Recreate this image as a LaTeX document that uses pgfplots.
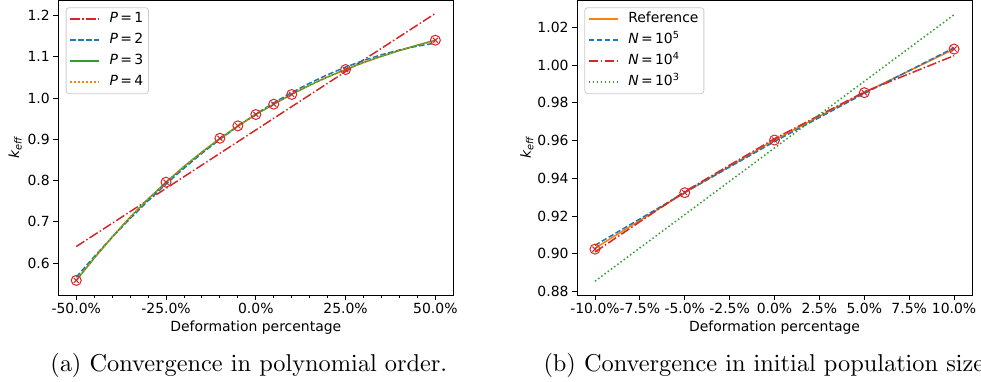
\documentclass[border=0pt]{standalone}
\usepackage{fontspec}
\usepackage{pgfplots}
\pgfplotsset{compat=1.18}
\newfontfamily\dejavu{DejaVu Sans}
\definecolor{tred}{HTML}{D62728}
\definecolor{tblue}{HTML}{1F77B4}
\definecolor{tgreen}{HTML}{2CA02C}
\definecolor{torange}{HTML}{FF7F0E}
\newcommand{\tf}{\dejavu\fontsize{14}{16.8}\selectfont}
\font\capfont=cmr10 at 24.35bp
\pgfplotsset{
  base/.style={
    scale only axis, width=395bp, height=295bp, anchor=south west,
    axis line style={line width=0.9bp, black},
    tick align=outside, major tick length=5bp, minor tick length=3bp,
    every tick/.style={line width=0.9bp, black},
    xtick pos=lower, ytick pos=left,
    tick label style={font=\tf},
    xticklabel style={inner sep=3.3bp},
    yticklabel style={inner sep=3.3bp},
    label style={font=\tf},
    xlabel={Deformation percentage},
    xlabel style={at={(axis description cs:0.5,0)}, anchor=base, yshift=-36.7bp},
    ylabel={{\itshape k}\textsubscript{\itshape eff}},
    legend cell align=left,
    legend style={at={(0,1)}, anchor=north west, xshift=7.4bp, yshift=-7.3bp,
      draw=black!20, rounded corners=3bp, line width=0.8bp, fill=white,
      fill opacity=0.8, text opacity=1, font=\tf,
      inner xsep=3.3bp, inner ysep=3bp, row sep=4bp, column sep=7.7bp,
      nodes={inner sep=2bp, text height=10bp, text depth=3bp}},
    legend image code/.code={\draw[##1] (0bp,0bp) -- (29bp,0bp);},
  },
  dd/.style={line width=1.5bp, dash pattern=on 9.6bp off 2.4bp on 1.5bp off 2.4bp},
  ds/.style={line width=1.5bp, dash pattern=on 5.55bp off 2.4bp},
  dt/.style={line width=1.5bp, dash pattern=on 1.5bp off 2.475bp},
  so/.style={line width=1.5bp},
  mk/.style={only marks, forget plot, mark=o, mark size=5bp, tred, mark options={line width=1bp, tred}},
  mx/.style={only marks, forget plot, mark=x, mark size=3.6bp, tred, mark options={line width=1bp, tred}},
}
\begin{document}
\begin{tikzpicture}[x=1bp,y=1bp]
\useasboundingbox (0,0) rectangle (981,381);
\clip (0,0) rectangle (981,381);
\begin{axis}[base, at={(58.3bp,86bp)},
  xmin=-55, xmax=55, ymin=0.5226, ymax=1.2375,
  xtick={-50,-25,0,25,50},
  xticklabels={-50.0\%,-25.0\%,0.0\%,25.0\%,50.0\%},
  minor x tick num=4,
  ytick={0.6,0.7,0.8,0.9,1.0,1.1,1.2},
  yticklabels={0.6,0.7,0.8,0.9,1.0,1.1,1.2},
  ylabel style={at={(axis description cs:-0.0835,0.5)}, rotate=0, anchor=south},
]
\addplot[tred, dd] coordinates {(-50,0.640) (-25,0.781) (0,0.9225) (25,1.064) (50,1.205)};
\addlegendentry{{\itshape P}\,=\,1}
\addplot[tblue, ds] coordinates {(-50,0.566) (-45,0.6155) (-40,0.6628) (-35,0.7079) (-30,0.7508) (-25,0.7914) (-20,0.8298) (-15,0.8659) (-10,0.8998) (-5,0.9315) (0,0.961) (5,0.9882) (10,1.0132) (15,1.0360) (20,1.0566) (25,1.0749) (30,1.0910) (35,1.1048) (40,1.1164) (45,1.1258) (50,1.1330)};
\addlegendentry{{\itshape P}\,=\,2}
\addplot[tgreen, so] coordinates {(-50,0.558) (-45,0.612) (-40,0.663) (-35,0.711) (-30,0.755) (-25,0.796) (-20,0.834) (-15,0.869) (-10,0.902) (-5,0.932) (0,0.960) (5,0.985) (10,1.009) (15,1.031) (20,1.051) (25,1.069) (30,1.086) (35,1.101) (40,1.115) (45,1.128) (50,1.140)};
\addlegendentry{{\itshape P}\,=\,3}
\addplot[torange, dt] coordinates {(-50,0.558) (-45,0.6125) (-40,0.6635) (-35,0.7112) (-30,0.7552) (-25,0.7962) (-20,0.8342) (-15,0.8692) (-10,0.9022) (-5,0.9322) (0,0.9602) (5,0.9852) (10,1.0092) (15,1.0312) (20,1.0512) (25,1.0692) (30,1.0862) (35,1.1012) (40,1.1152) (45,1.1282) (50,1.1400)};
\addlegendentry{{\itshape P}\,=\,4}
\addplot[mk] coordinates {(-50,0.558) (-25,0.796) (-10,0.9025) (-5,0.9325) (0,0.960) (5,0.985) (10,1.0085) (25,1.069) (50,1.140)};
\addplot[mx] coordinates {(-50,0.558) (-25,0.796) (-10,0.9025) (-5,0.9325) (0,0.960) (5,0.985) (10,1.0085) (25,1.069) (50,1.140)};
\end{axis}
\begin{axis}[base, at={(577bp,86bp)},
  xmin=-11, xmax=11, ymin=0.8782, ymax=1.0345,
  xtick={-10,-7.5,-5,-2.5,0,2.5,5,7.5,10},
  xticklabels={-10.0\%,-7.5\%,-5.0\%,-2.5\%,0.0\%,2.5\%,5.0\%,7.5\%,10.0\%},
  ytick={0.88,0.90,0.92,0.94,0.96,0.98,1.00,1.02},
  yticklabels={0.88,0.90,0.92,0.94,0.96,0.98,1.00,1.02},
  ylabel style={at={(axis description cs:-0.101,0.5)}, rotate=0, anchor=south},
]
\addplot[torange, so] coordinates {(-10,0.903) (-5,0.9324) (0,0.9603) (5,0.9854) (10,1.0085)};
\addlegendentry{Reference}
\addplot[tblue, ds] coordinates {(-10,0.9045) (-5,0.9325) (0,0.9595) (5,0.985) (10,1.0092)};
\addlegendentry{{\itshape N}\,=\,10\textsuperscript{5}}
\addplot[tred, dd] coordinates {(-10,0.901) (-5,0.933) (0,0.9610) (5,0.9858) (10,1.005)};
\addlegendentry{{\itshape N}\,=\,10\textsuperscript{4}}
\addplot[tgreen, dt] coordinates {(-10,0.8855) (0,0.9561) (10,1.0267)};
\addlegendentry{{\itshape N}\,=\,10\textsuperscript{3}}
\addplot[mk] coordinates {(-10,0.9025) (-5,0.9324) (0,0.9603) (5,0.9854) (10,1.0085)};
\addplot[mx] coordinates {(-10,0.9025) (-5,0.9324) (0,0.9603) (5,0.9854) (10,1.0085)};
\end{axis}
\node[anchor=base, font=\capfont] at (249,9.3) {(a) Convergence in polynomial order.};
\node[anchor=base west, font=\capfont, inner sep=0pt] at (543.3,9.3) {(b) Convergence in initial population size};
\end{tikzpicture}
\end{document}
